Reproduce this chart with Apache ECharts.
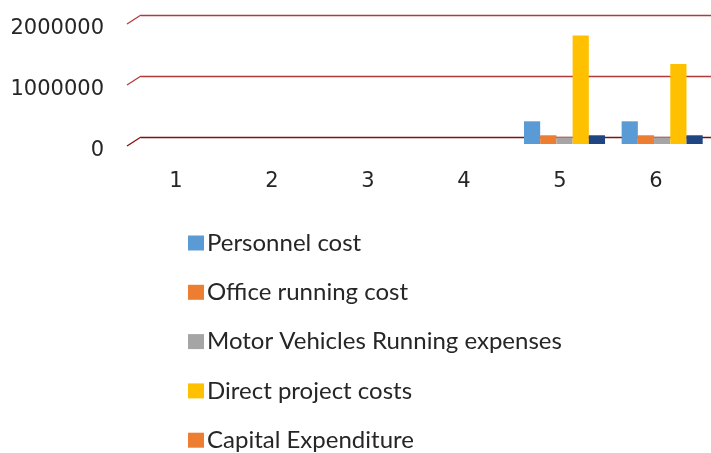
<!DOCTYPE html>
<html>
<head>
<meta charset="utf-8">
<script src="https://cdn.jsdelivr.net/npm/echarts@6/dist/echarts.min.js"></script>
<style>
  html, body { margin: 0; padding: 0; background: #fff; }
</style>
</head>
<body>
<div id="echarts" style="width: 711px; height: 453px"></div>
<script>
// data
let categories = ['1', '2', '3', '4', '5', '6']
let yTicks = [0, 1000000, 2000000]
let personnelCost = [0, 0, 0, 0, 372000, 372000]
let officeRunningCost = [0, 0, 0, 0, 143000, 143000]
let motorVehicles = [0, 0, 0, 0, 110000, 110000]
let directProjectCosts = [0, 0, 0, 0, 1780000, 1310000]
let capitalExpenditure = [0, 0, 0, 0, 143000, 143000]

let seriesNames = ['Personnel cost', 'Office running cost', 'Motor Vehicles Running expenses',
  'Direct project costs', 'Capital Expenditure']
let seriesData = [personnelCost, officeRunningCost, motorVehicles, directProjectCosts, capitalExpenditure]
let barColors = ['#5B9BD5', '#ED7D31', '#A5A5A5', '#FFC000', '#1F4682']
// the legend swatch of the last series is orange in the original
let legendColors = ['#5B9BD5', '#ED7D31', '#A5A5A5', '#FFC000', '#ED7D31']

let myChart = echarts.init(document.getElementById('echarts'))

let yMax = yTicks[yTicks.length - 1]
let yStep = yTicks[1] - yTicks[0]

let option = {
  animation: false,
  grid: [
    // back wall: gridlines
    {left: 141, right: 0, top: 15, height: 122},
    // bars (front, a bit lower and wider)
    {left: 125, width: 588, top: 22, height: 122},
    // category labels
    {left: 128, width: 576, top: 15, height: 122},
    // value labels (sit at the front edge of the floor)
    {left: 125, width: 588, top: 29, height: 122}
  ],
  xAxis: [
    {gridIndex: 0, type: 'category', data: categories, show: false},
    {gridIndex: 1, type: 'category', data: categories, show: false},
    {
      gridIndex: 2, type: 'category', data: categories,
      axisLine: {show: false}, axisTick: {show: false},
      axisLabel: {margin: 34, fontFamily: 'DejaVu Sans', fontSize: 21, color: '#262626'}
    },
    {gridIndex: 3, type: 'category', data: categories, show: false}
  ],
  yAxis: [
    {
      gridIndex: 0, type: 'value', min: 0, max: yMax, interval: yStep,
      axisLine: {show: false}, axisTick: {show: false}, axisLabel: {show: false},
      splitLine: {
        lineStyle: {
          color: ['#7F1010', '#B23A3A', '#B23A3A'],
          width: 1.3
        }
      }
    },
    {gridIndex: 1, type: 'value', min: 0, max: yMax, interval: yStep, show: false},
    {gridIndex: 2, type: 'value', show: false},
    {
      gridIndex: 3, type: 'value', min: 0, max: yMax, interval: yStep,
      axisLine: {show: false}, axisTick: {show: false}, splitLine: {show: false},
      axisLabel: {
        margin: 21, fontFamily: 'DejaVu Sans', fontSize: 21, color: '#262626',
        formatter: (v) => String(v)
      }
    }
  ],
  legend: {
    orient: 'vertical',
    left: 183,
    top: 226,
    height: 240,
    icon: 'rect',
    itemWidth: 16,
    itemHeight: 15,
    itemGap: 25.3,
    textStyle: {
      fontFamily: 'Lato', fontSize: 24, lineHeight: 24, color: '#262626',
      padding: [0, 0, 0, -2]
    },
    data: seriesNames.map((name, i) => ({name: name, itemStyle: {color: legendColors[i]}}))
  },
  series: seriesNames.map((name, i) => ({
    name: name,
    type: 'bar',
    xAxisIndex: 1,
    yAxisIndex: 1,
    data: seriesData[i],
    barGap: '0%',
    barCategoryGap: '17%',
    clip: false,
    itemStyle: {color: barColors[i]}
  }))
}

myChart.setOption(option)

// slanted floor/wall edges at the left end of each gridline
let left = 141
let graphics = yTicks.map((v) => {
  let y = myChart.convertToPixel({yAxisIndex: 0}, v)
  return {
    type: 'line',
    shape: {x1: left - 14, y1: y + 9, x2: left, y2: y},
    style: {stroke: v === 0 ? '#7F1010' : '#B23A3A', lineWidth: 1.3}
  }
})
myChart.setOption({graphic: graphics})
</script>
</body>
</html>
